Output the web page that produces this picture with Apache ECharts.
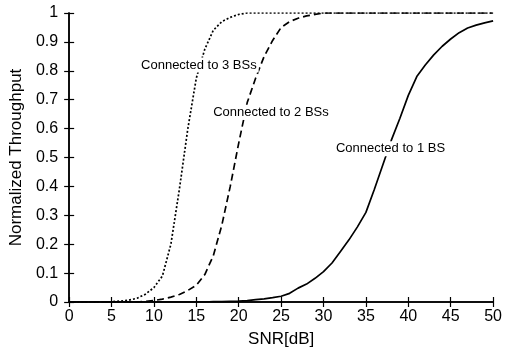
<!DOCTYPE html>
<html>
<head>
<meta charset="utf-8">
<script src="https://cdn.jsdelivr.net/npm/echarts@6/dist/echarts.min.js"></script>
<style>
  html, body { margin: 0; padding: 0; background: #fff; }
  #chart { width: 505px; height: 353px; }
</style>
</head>
<body>
<div id="chart"></div>
<script>
const snr = [0, 1, 2, 3, 4, 5, 6, 7, 8, 9, 10, 11, 12, 13, 14, 15, 16, 17, 18, 19, 20, 21, 22, 23, 24, 25,
  26, 27, 28, 29, 30, 31, 32, 33, 34, 35, 36, 37, 38, 39, 40, 41, 42, 43, 44, 45, 46, 47, 48, 49, 50]

const bs3 = [0, 0, 0, 0, 0, 0.001, 0.003, 0.006, 0.013, 0.027, 0.05, 0.09, 0.2, 0.39, 0.6, 0.775, 0.875,
  0.94, 0.97, 0.985, 0.995, 1, 1, 1, 1, 1, 1, 1, 1, 1, 1, 1, 1, 1, 1, 1, 1, 1, 1, 1, 1, 1, 1, 1, 1, 1,
  1, 1, 1, 1, 1]

const bs2 = [0, 0, 0, 0, 0, 0, 0, 0, 0, 0.002, 0.005, 0.01, 0.017, 0.026, 0.04, 0.058, 0.095, 0.16,
  0.265, 0.4, 0.55, 0.69, 0.775, 0.85, 0.905, 0.95, 0.97, 0.982, 0.99, 0.995, 1, 1, 1, 1, 1, 1, 1, 1,
  1, 1, 1, 1, 1, 1, 1, 1, 1, 1, 1, 1, 1]

const bs1 = [0, 0, 0, 0, 0, 0, 0, 0, 0, 0, 0, 0, 0, 0, 0, 0, 0, 0.001, 0.001, 0.002, 0.003, 0.005, 0.008,
  0.011, 0.015, 0.02, 0.03, 0.048, 0.062, 0.082, 0.105, 0.135, 0.175, 0.215, 0.26, 0.31, 0.39, 0.475,
  0.56, 0.635, 0.715, 0.78, 0.82, 0.855, 0.885, 0.91, 0.932, 0.948, 0.958, 0.966, 0.973]

const seriesNames = ['Connected to 3 BSs', 'Connected to 2 BSs', 'Connected to 1 BS']
// where each curve label sits, in data units [snr, throughput]
const labelAt = [[15.3, 0.82], [23.8, 0.657], [37.9, 0.53]]

const font = 'Liberation Sans, Arial, sans-serif'

function pairs(ys) {
  return snr.map((x, i) => [x, ys[i]])
}

function curve(i, ys, lineType) {
  return {
    name: seriesNames[i],
    type: 'line',
    data: pairs(ys),
    symbol: 'none',
    silent: true,
    lineStyle: { color: '#000', width: 1.7, type: lineType },
    markPoint: {
      symbol: 'rect',
      symbolSize: 1,
      itemStyle: { color: 'transparent' },
      label: {
        show: true,
        position: 'inside',
        formatter: seriesNames[i],
        color: '#000',
        fontFamily: font,
        fontSize: 13,
        backgroundColor: '#fff',
        padding: [1, 2],
      },
      data: [{ coord: labelAt[i] }],
    },
    z: 3 - i,
  }
}

const chart = echarts.init(document.getElementById('chart'), null, { renderer: 'canvas' })

const axisLine = { show: true, lineStyle: { color: '#000', width: 1.5 } }
const tick = { show: true, inside: true, length: 5, lineStyle: { color: '#000', width: 1.2 } }

chart.setOption({
  animation: false,
  backgroundColor: '#fff',
  grid: { left: 69, right: 9, top: 13, bottom: 51 },
  xAxis: [
    {
      type: 'value',
      min: 0,
      max: 50,
      interval: 5,
      name: 'SNR[dB]',
      nameLocation: 'middle',
      nameGap: 29,
      nameTextStyle: { color: '#000', fontFamily: font, fontSize: 17 },
      axisLine,
      axisTick: tick,
      axisLabel: { color: '#000', fontFamily: font, fontSize: 16, margin: 7 },
      splitLine: { show: false },
    },
    {
      type: 'value',
      position: 'top',
      min: 0,
      max: 50,
      interval: 5,
      axisLine,
      axisTick: tick,
      axisLabel: { show: false },
      splitLine: { show: false },
    },
  ],
  yAxis: [
    {
      type: 'value',
      min: 0,
      max: 1,
      interval: 0.1,
      name: 'Normalized Throughput',
      nameLocation: 'middle',
      nameGap: 39,
      nameTextStyle: { color: '#000', fontFamily: font, fontSize: 17 },
      axisLine,
      axisTick: tick,
      axisLabel: { color: '#000', fontFamily: font, fontSize: 16, margin: 11 },
      splitLine: { show: false },
    },
    {
      type: 'value',
      position: 'right',
      min: 0,
      max: 1,
      interval: 0.1,
      axisLine,
      axisTick: tick,
      axisLabel: { show: false },
      splitLine: { show: false },
    },
  ],
  series: [
    curve(0, bs3, [2, 2]),
    curve(1, bs2, [7, 4]),
    curve(2, bs1, 'solid'),
  ],
})
</script>
</body>
</html>
